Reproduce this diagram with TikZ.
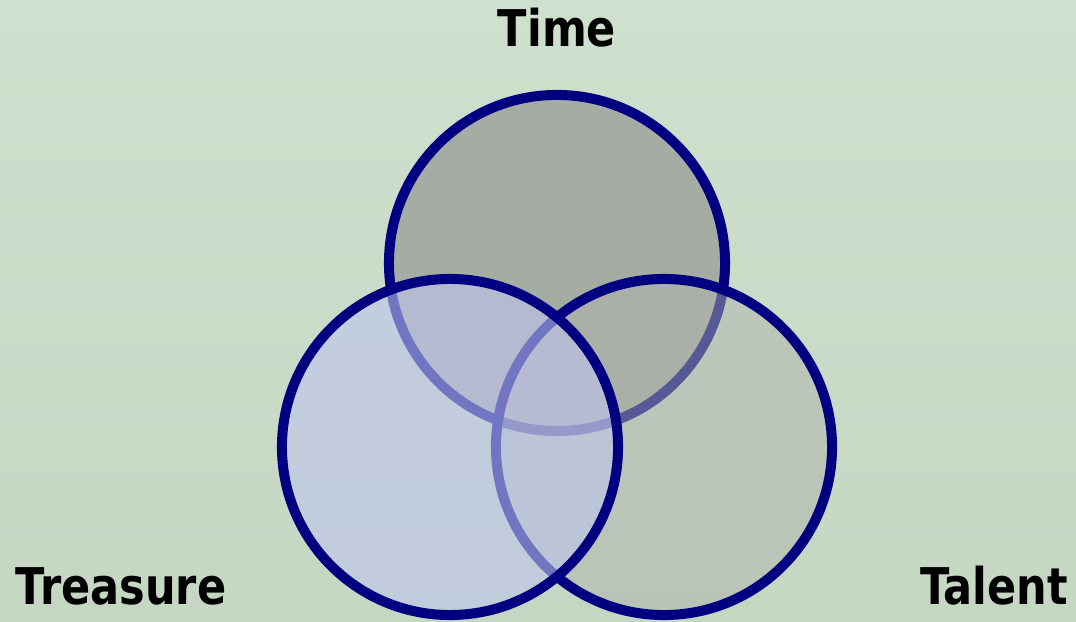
\documentclass[tikz,border=0pt]{standalone}
\usepackage{fontspec}
\newfontfamily\labelfont[FakeStretch=0.85]{DejaVu Sans}
\usepackage{tikz}
\usetikzlibrary{positioning, calc, backgrounds}
\definecolor{pagegreen}{RGB}{208,224,206}
\definecolor{pagegreendark}{RGB}{197,214,195}
\definecolor{ringnavy}{RGB}{0,0,128}
\definecolor{timegray}{RGB}{165,172,163}
\definecolor{treasureblue}{RGB}{190,196,237}
\definecolor{talentgray}{RGB}{175,178,172}

\begin{document}
\begin{tikzpicture}[
    x=0.025cm, y=0.025cm,
    ring/.style={circle, draw=ringnavy, line width=0.25cm, minimum size=8.4cm, inner sep=0pt},
    word/.style={font=\labelfont\bfseries\fontsize{36}{40}\selectfont, text=black, anchor=base, inner sep=0pt},
]
    \useasboundingbox (0,0) rectangle (1076,622);
    \shade[top color=pagegreen, bottom color=pagegreendark] (0,0) rectangle (1076,622);

    % the three sets, back to front
    \node[ring, fill=timegray] (time) at (557,359) {};
    \node[ring, fill=talentgray, fill opacity=0.5] (talent) at (664,175) {};
    \node[ring, fill=treasureblue, fill opacity=0.6] (treasure) at (450,175) {};

    \node[word] (timelabel) at (557,575) {Time};
    \node[word] (treasurelabel) at (121,17) {Treasure};
    \node[word] (talentlabel) at (994,17) {Talent};
\end{tikzpicture}
\end{document}
